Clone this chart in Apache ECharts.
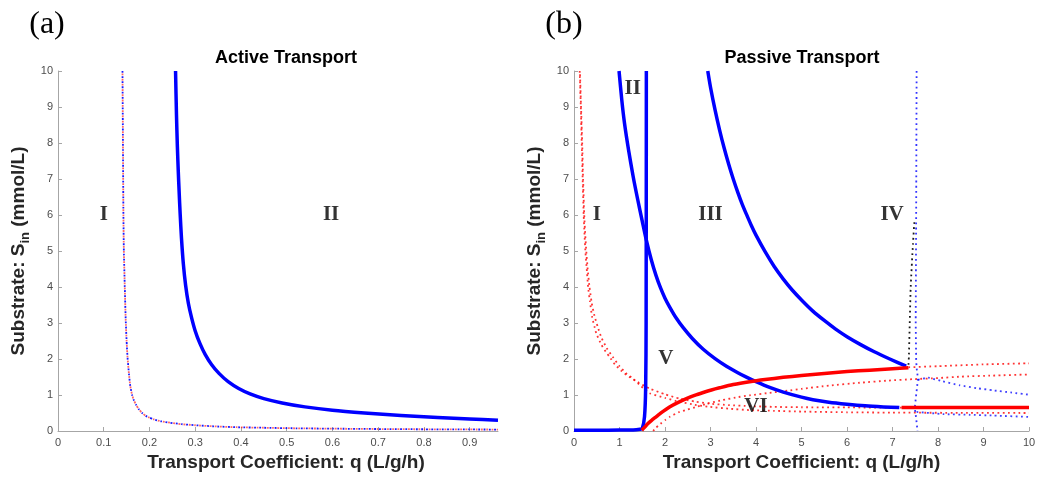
<!DOCTYPE html>
<html>
<head>
<meta charset="utf-8">
<script src="https://cdn.jsdelivr.net/npm/echarts@6/dist/echarts.min.js"></script>
<style>
html,body{margin:0;padding:0;background:#fff;}
#c{width:1039px;height:479px;}
</style>
</head>
<body>
<div id="c"></div>
<script>
// ---------- tick labels ----------
const leftXTicks = [0, 0.1, 0.2, 0.3, 0.4, 0.5, 0.6, 0.7, 0.8, 0.9];
const rightXTicks = [0, 1, 2, 3, 4, 5, 6, 7, 8, 9, 10];
const yTicks = [0, 1, 2, 3, 4, 5, 6, 7, 8, 9, 10];

// ---------- (a) Active transport: q values and S_in values ----------
const activeSolidQ = [0.257,0.259,0.261,0.263,0.265,0.267,0.270,0.274,0.279,0.285,0.292,0.300,0.310,0.322,0.336,0.352,0.372,0.395,0.42,0.45,0.49,0.54,0.6,0.67,0.75,0.83,0.9,0.962];
const activeSolidS = [10,8.8,7.9,7.2,6.6,6.05,5.35,4.65,4.05,3.55,3.15,2.78,2.44,2.12,1.84,1.6,1.37,1.18,1.03,0.9,0.78,0.67,0.575,0.5,0.43,0.375,0.335,0.30];
const activeDotQ = [0.141,0.142,0.143,0.144,0.146,0.148,0.150,0.152,0.155,0.158,0.162,0.166,0.171,0.177,0.184,0.192,0.2,0.21,0.225,0.245,0.27,0.3,0.34,0.39,0.45,0.52,0.6,0.7,0.8,0.9,0.962];
const activeDotS = [10,8,6,5,4,3.1,2.5,2.05,1.6,1.25,1.0,0.85,0.72,0.6,0.5,0.42,0.37,0.32,0.27,0.23,0.19,0.16,0.13,0.105,0.09,0.075,0.065,0.055,0.048,0.043,0.04];
const activeRegions = [[0.1,6,'I'],[0.597,6,'II']];

// ---------- (b) Passive transport ----------
const stepQ = [0,0.5,1.0,1.3,1.45,1.50,1.55,1.575,1.585,1.59];
const stepS = [0.02,0.02,0.025,0.03,0.05,0.07,0.4,1.2,3,10];
const blueIIQ = [0.99,1.05,1.11,1.2,1.3,1.4,1.5,1.59,1.7,1.8,1.9,2.0,2.1,2.25,2.4,2.6,2.84,3.1,3.35,3.6,3.8,4.0,4.3,4.6,5.0,5.25,5.6,6.0,6.4,6.8,7.15];
const blueIIS = [10,9.2,8.55,7.8,7.07,6.43,5.83,5.3,4.75,4.33,3.98,3.69,3.45,3.13,2.87,2.57,2.27,2.01,1.80,1.62,1.49,1.37,1.21,1.08,0.94,0.87,0.80,0.745,0.70,0.67,0.65];
const blueIIIQ = [2.94,3.0,3.1,3.2,3.3,3.4,3.5,3.6,3.7,3.8,3.9,4.0,4.2,4.4,4.6,4.8,5.0,5.25,5.5,5.75,6.0,6.3,6.6,6.94,7.3];
const blueIIIS = [10,9.55,8.92,8.36,7.86,7.41,7.0,6.63,6.29,5.99,5.70,5.44,4.98,4.57,4.22,3.91,3.64,3.33,3.07,2.83,2.62,2.40,2.20,2.00,1.80];
const redRiseQ = [1.49,1.55,1.62,1.7,1.81,1.95,2.1,2.28,2.47,2.65,2.84,3.02,3.2,3.5,3.86,4.2,4.6,5.0,5.5,6.0,6.5,7.0,7.35];
const redRiseS = [0.02,0.1,0.2,0.29,0.4,0.54,0.67,0.79,0.90,0.99,1.07,1.14,1.2,1.29,1.37,1.43,1.49,1.54,1.6,1.65,1.69,1.73,1.76];
const redFlatQ = [7.2,10];
const redFlatS = [0.65,0.65];
const dotDecAQ = [0.125,0.15,0.17,0.19,0.213,0.23,0.25,0.28,0.31,0.35,0.4,0.45,0.49,0.6,0.7,0.78,0.9,1.05,1.22,1.4,1.66,2.0,2.32,2.65,2.98,3.4,3.86,4.4,5.0,6.0,7.0,8.5,10];
const dotDecAS = [10,9,8,7,6,5.5,5,4.5,4,3.6,3.15,2.9,2.71,2.4,2.2,2.06,1.85,1.66,1.5,1.36,1.18,1.02,0.90,0.82,0.76,0.72,0.69,0.67,0.66,0.655,0.65,0.65,0.65];
const dotDecBQ = [0.13,0.155,0.18,0.2,0.225,0.245,0.27,0.3,0.34,0.39,0.45,0.52,0.6,0.72,0.85,1.0,1.15,1.3,1.48,1.66,2.0,2.32,2.65,2.98,3.4,3.86,4.4,5.0,6.0,7.0,8.5,10];
const dotDecBS = [10,9,8,7,6,5.5,5,4.5,4,3.55,3.2,2.9,2.6,2.3,2.06,1.8,1.6,1.45,1.24,1.05,0.92,0.81,0.73,0.67,0.62,0.58,0.56,0.54,0.52,0.51,0.505,0.50];
const dotRiseQ = [1.74,1.8,1.9,2.0,2.1,2.3,2.5,2.69,2.95,3.27,3.55,3.86,4.3,4.7,5.0,5.6,6.28,6.9,7.45,8.0,8.5,9.2,10];
const dotRiseS = [0,0.09,0.2,0.3,0.39,0.52,0.6,0.67,0.77,0.86,0.93,0.99,1.06,1.12,1.17,1.26,1.34,1.4,1.44,1.47,1.51,1.54,1.57];
const dotTopQ = [7.35,8,9,10];
const dotTopS = [1.77,1.80,1.85,1.88];
const blueVertQ = [7.53,7.52,7.51,7.52,7.53,7.56,7.52,7.49,7.52,7.55];
const blueVertS = [10,6,3,2,1.75,1.45,1.0,0.65,0.35,0.0];
const blueHumpQ = [7.56,7.78,8.1,8.48,8.85,9.21,9.6,10];
const blueHumpS = [1.42,1.48,1.38,1.27,1.19,1.13,1.07,1.01];
const blueLowQ = [7.53,8.11,8.7,9.21,10];
const blueLowS = [0.53,0.47,0.45,0.43,0.39];
const blackQ = [7.48,7.45,7.40,7.36,7.35];
const blackS = [5.8,5.2,4,2.06,1.8];
const passiveRegions = [[0.5,6,'I'],[1.29,9.5,'II'],[3.0,6,'III'],[6.99,6,'IV'],[2.02,2.02,'V'],[4.0,0.69,'VI']];

// ---------- styling ----------
const BLUE = '#0000ff', RED = '#ff0000';
const sans = '"Liberation Sans", Arial, Helvetica, sans-serif';
const serif = '"Liberation Serif", "Times New Roman", serif';
const zip = (q, s) => q.map((v, i) => [v, s[i]]);

function xAxisCfg(gi, max, ticks, shift) {
  return {
    type: 'value', gridIndex: gi, min: 0, max: max, interval: gi === 0 ? 0.1 : 1,
    axisLine: { show: true, lineStyle: { color: '#a6a6a6', width: 1 } },
    axisTick: { show: true, inside: true, length: 4, lineStyle: { color: '#a6a6a6' }, customValues: ticks },
    axisLabel: { color: '#4d4d4d', fontSize: 11, fontFamily: sans, margin: 6, customValues: ticks,
      formatter: v => String(Math.round(v * 10) / 10) },
    splitLine: { show: false },
    name: 'Transport Coefficient: q (L/g/h)', nameLocation: 'middle', nameGap: 22,
    nameTextStyle: { fontSize: 19, fontWeight: 'bold', color: '#262626', fontFamily: sans, padding: [0, 0, 0, shift] }
  };
}
function yAxisCfg(gi) {
  return {
    type: 'value', gridIndex: gi, min: 0, max: 10, interval: 1,
    axisLine: { show: true, lineStyle: { color: '#a6a6a6', width: 1 } },
    axisTick: { show: true, inside: true, length: 4, lineStyle: { color: '#a6a6a6' }, customValues: yTicks },
    axisLabel: { color: '#4d4d4d', fontSize: 11, fontFamily: sans, margin: 5, customValues: yTicks },
    splitLine: { show: false },
    name: '{a|Substrate: S}{b|in}{a| (mmol/L)}', nameLocation: 'middle', nameRotate: 90, nameGap: 26,
    nameTextStyle: {
      rich: {
        a: { fontSize: 19, fontWeight: 'bold', color: '#262626', fontFamily: sans, lineHeight: 26 },
        b: { fontSize: 13, fontWeight: 'bold', color: '#262626', fontFamily: sans, verticalAlign: 'bottom', lineHeight: 10 }
      }
    }
  };
}
function solid(data, color, gi) {
  return { type: 'line', xAxisIndex: gi, yAxisIndex: gi, data: data, showSymbol: false, smooth: 0.25,
    lineStyle: { color: color, width: 3.5, cap: 'butt', join: 'round' }, silent: true, z: 5 };
}
function dotted(data, color, gi, offset, opacity, w) {
  const lw = w || 1.8;
  return { type: 'line', xAxisIndex: gi, yAxisIndex: gi, data: data, showSymbol: false, smooth: 0.15,
    lineStyle: { color: color, width: lw, type: [lw, lw * 1.9], dashOffset: offset || 0, cap: 'butt', opacity: opacity == null ? 0.9 : opacity },
    silent: true, z: 3 };
}
function regions(data, gi) {
  return { type: 'scatter', xAxisIndex: gi, yAxisIndex: gi, data: data, symbolSize: 0, silent: true, z: 10,
    label: { show: true, position: 'inside', formatter: p => p.data[2],
      fontFamily: serif, fontWeight: 'bold', fontSize: 21, color: '#000' } };
}

const chart = echarts.init(document.getElementById('c'), null, { renderer: 'canvas' });
chart.setOption({
  animation: false,
  backgroundColor: '#ffffff',
  grid: [
    { left: 58, top: 71, width: 440, height: 360 },
    { left: 574, top: 71, width: 455, height: 360 }
  ],
  xAxis: [xAxisCfg(0, 0.962, leftXTicks, 16), xAxisCfg(1, 10, rightXTicks, 0)],
  yAxis: [yAxisCfg(0), yAxisCfg(1)],
  graphic: [
    { type: 'text', x: 47, y: 25, style: { text: '(a)', font: '32px ' + serif, fill: '#000', textAlign: 'center', textVerticalAlign: 'middle' } },
    { type: 'text', x: 564, y: 25, style: { text: '(b)', font: '32px ' + serif, fill: '#000', textAlign: 'center', textVerticalAlign: 'middle' } },
    { type: 'text', x: 286, y: 58, style: { text: 'Active Transport', font: 'bold 18px ' + sans, fill: '#000', textAlign: 'center', textVerticalAlign: 'middle' } },
    { type: 'text', x: 802, y: 58, style: { text: 'Passive Transport', font: 'bold 18px ' + sans, fill: '#000', textAlign: 'center', textVerticalAlign: 'middle' } }
  ],
  series: [
    // (a)
    dotted(zip(activeDotQ, activeDotS), BLUE, 0, 0, 0.9),
    dotted(zip(activeDotQ, activeDotS), RED, 0, 2.6, 0.6),
    solid(zip(activeSolidQ, activeSolidS), BLUE, 0),
    regions(activeRegions, 0),
    // (b)
    dotted(zip(dotDecAQ, dotDecAS), RED, 1, 0, 0.8),
    dotted(zip(dotDecBQ, dotDecBS), RED, 1, 1.7, 0.8),
    dotted(zip(dotRiseQ, dotRiseS), RED, 1, 0, 0.8),
    dotted(zip(dotTopQ, dotTopS), RED, 1, 0, 0.8),
    dotted(zip(blackQ, blackS), '#000', 1, 0, 0.9),
    Object.assign(dotted(zip(blueVertQ, blueVertS), BLUE, 1, 0, 0.8), { smooth: false }),
    dotted(zip(blueHumpQ, blueHumpS), BLUE, 1, 0, 0.75),
    dotted(zip(blueLowQ, blueLowS), BLUE, 1, 0, 0.75),
    solid(zip(stepQ, stepS), BLUE, 1),
    solid(zip(blueIIQ, blueIIS), BLUE, 1),
    solid(zip(blueIIIQ, blueIIIS), BLUE, 1),
    solid(zip(redRiseQ, redRiseS), RED, 1),
    solid(zip(redFlatQ, redFlatS), RED, 1),
    regions(passiveRegions, 1)
  ]
});
</script>
</body>
</html>
